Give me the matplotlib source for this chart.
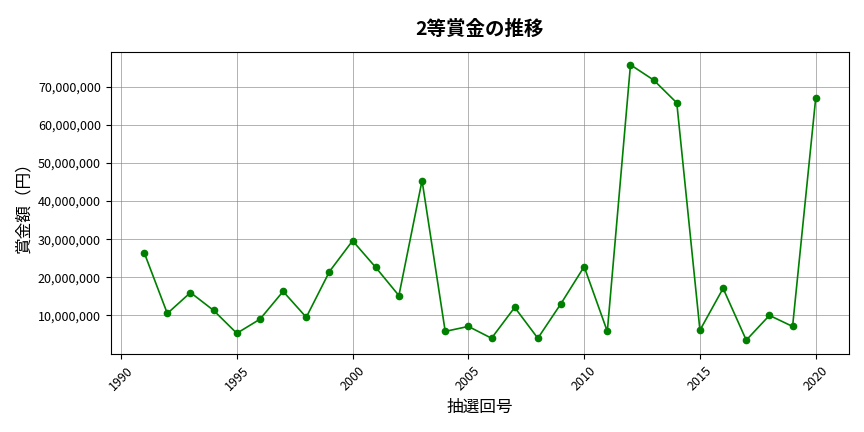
import matplotlib
matplotlib.use("Agg")
import matplotlib.pyplot as plt
from matplotlib.ticker import FuncFormatter

plt.rcParams['font.family'] = ['Noto Sans CJK JP', 'DejaVu Sans']

years = list(range(1991, 2021))
prize_m = [26.5, 10.5, 16.0, 11.3, 5.3, 9.0, 16.3, 9.5, 21.5, 29.6,
           22.6, 15.2, 45.4, 5.8, 7.1, 4.0, 12.1, 4.0, 13.1, 22.8,
           5.8, 75.8, 71.8, 65.8, 6.1, 17.1, 3.5, 10.0, 7.1, 67.1]
prize = [v * 1e6 for v in prize_m]

fig, ax = plt.subplots(figsize=(8.64, 4.32), dpi=100)
ax.plot(years, prize, color='green', marker='o', markersize=4.5, linewidth=1.2)
ax.set_title('2等賞金の推移', fontsize=14, fontweight='bold', pad=12)
ax.set_xlabel('抽選回号', fontsize=12)
ax.set_ylabel('賞金額（円）', fontsize=12)
ax.set_xticks(range(1990, 2021, 5))
ax.tick_params(axis='x', rotation=45, labelsize=9)
ax.tick_params(axis='y', labelsize=9)
ax.set_yticks([i * 1e7 for i in range(1, 8)])
ax.set_ylim(-0.2e6, 79.2e6)
ax.yaxis.set_major_formatter(FuncFormatter(lambda v, p: f'{int(v):,}'))
ax.grid(True, color='gray', alpha=0.6, linewidth=0.7)
fig.subplots_adjust(left=0.128, right=0.983, top=0.88, bottom=0.18)
fig.savefig('out.png')
